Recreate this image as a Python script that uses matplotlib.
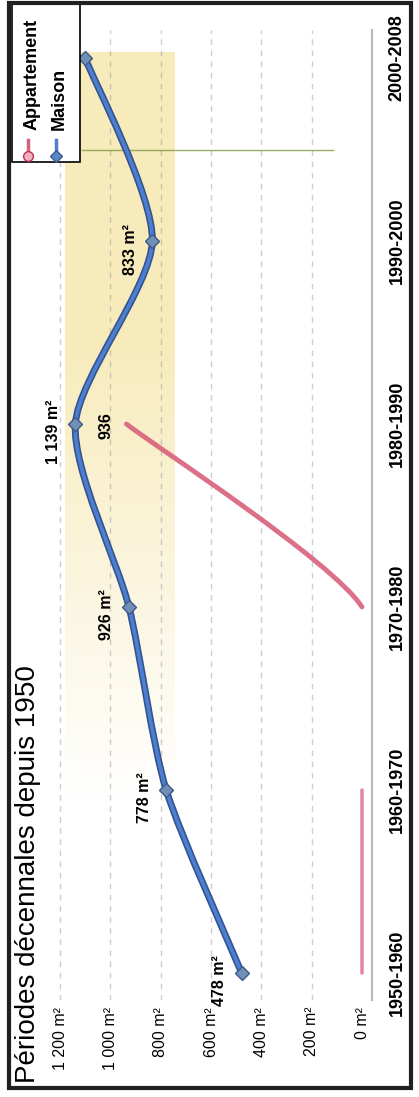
import numpy as np
import matplotlib
matplotlib.use("Agg")
import matplotlib.pyplot as plt
from matplotlib.path import Path
from matplotlib.patches import PathPatch, Rectangle
from matplotlib.lines import Line2D

plt.rcParams['font.family'] = ['Liberation Sans', 'DejaVu Sans']

# data
periods = ["1950-1960", "1960-1970", "1970-1980", "1980-1990", "1990-2000", "2000-2008"]
maison = [478, 778, 926, 1139, 833, 1100]
appartement = [0, 0, 0, 936, np.nan, np.nan]
appart_hidden_segments = [1]  # 1960-1970 -> 1970-1980 not visible in the original
maison_labels = ["478 m²", "778 m²", "926 m²", "1 139 m²", "833 m²", None]
value_ticks = [0, 200, 400, 600, 800, 1000, 1200]
value_tick_labels = ["0 m²", "200 m²", "400 m²", "600 m²", "800 m²", "1 000 m²", "1 200 m²"]

W, H = 419, 1097


def fx(px):
    return px / W


def fy(py):
    return 1 - py / H


def smooth_path(vals, skip=(), only=None, k=8):
    # Catmull-Rom style bezier through the points (value, index)
    pts = [(v, i) for i, v in enumerate(vals)]
    verts, codes = [], []
    n = len(pts)
    for i in range(n - 1):
        if i in skip or np.isnan(pts[i][0]) or np.isnan(pts[i + 1][0]):
            continue
        if only is not None and i not in only:
            continue
        p0 = pts[i - 1] if i > 0 and not np.isnan(pts[i - 1][0]) else pts[i]
        p1, p2 = pts[i], pts[i + 1]
        p3 = pts[i + 2] if i + 2 < n and not np.isnan(pts[i + 2][0]) else pts[i + 1]
        c1 = (p1[0] + (p2[0] - p0[0]) / k, p1[1] + (p2[1] - p0[1]) / k)
        c2 = (p2[0] - (p3[0] - p1[0]) / k, p2[1] - (p3[1] - p1[1]) / k)
        verts += [p1, c1, c2, p2]
        codes += [Path.MOVETO, Path.CURVE4, Path.CURVE4, Path.CURVE4]
    return Path(verts, codes)


fig = plt.figure(figsize=(W / 100, H / 100), dpi=100)
ax = fig.add_axes([fx(40), fy(1000), fx(372) - fx(40), fy(30) - fy(1000)])
ax.set_xlim(1279.5, -39.7)
ax.set_ylim(-0.1475, 5.153)

for s in ["top", "left", "bottom"]:
    ax.spines[s].set_visible(False)
ax.spines["right"].set_color("#b8b8b8")
ax.spines["right"].set_linewidth(1.5)

# yellow highlight band, fading towards the bottom
grad = np.ones((100, 1, 4))
grad[..., 0], grad[..., 1], grad[..., 2] = 0.96, 0.89, 0.62
grad[:, 0, 3] = np.clip(np.linspace(0.0, 1.6, 100), 0, 1) * 0.7
ax.imshow(grad, extent=(1180, 743, 0.9, 5.03), origin="lower", aspect="auto",
          interpolation="bilinear", zorder=0)

# dashed grid
for v in value_ticks[1:]:
    ax.axvline(v, color="#9c9c9c", lw=1, ls=(0, (4, 4)), alpha=0.5, zorder=1)

# green guide line
ax.plot([1112, 115], [4.5, 4.5], color="#7d9a3c", lw=1, alpha=0.8, zorder=1)

# appartement
ax.add_patch(PathPatch(smooth_path(appartement, appart_hidden_segments, only=[0]),
                       fill=False, ec="#e0708e", lw=2.5, capstyle="round", zorder=3,
                       alpha=0.85))
ax.add_patch(PathPatch(smooth_path(appartement, appart_hidden_segments, only=[2]),
                       fill=False, ec="#d9607c", lw=3.5, capstyle="round", zorder=3,
                       alpha=0.9))
ax.annotate("936", (appartement[3], 3), xytext=(-20, -2), textcoords="offset pixels",
            rotation=90, ha="center", va="center", fontsize=11.5, fontweight="bold")

# maison
mpath = smooth_path(maison)
ax.add_patch(PathPatch(mpath, fill=False, ec="#35548f", lw=5, capstyle="round", zorder=4))
ax.add_patch(PathPatch(mpath, fill=False, ec="#4d7fd0", lw=2.6, capstyle="round", zorder=5))
ax.plot(maison, range(len(maison)), ls="none", marker="D", ms=7, mfc="#6f8fb4",
        mec="#3d5a8a", mew=1, zorder=6)
for i, (v, lab) in enumerate(zip(maison, maison_labels)):
    if lab:
        ax.annotate(lab, (v, i), xytext=(-22, -8), textcoords="offset pixels",
                    rotation=90, ha="center", va="center", fontsize=11.5,
                    fontweight="bold")

# axes ticks
ax.set_xticks(value_ticks)
ax.set_xticklabels(value_tick_labels, rotation=90, fontsize=11.5)
ax.set_yticks(range(len(periods)))
ax.set_yticklabels(periods, rotation=90, fontsize=13, fontweight="bold", va="center")
ax.tick_params(axis="x", length=0, pad=5)
ax.tick_params(axis="y", length=0, pad=12, left=False, labelleft=False, labelright=True)

# title
fig.text(fx(28), fy(1083), "Périodes décennales depuis 1950", rotation=90,
         ha="center", va="bottom", fontsize=20)

# legend
fig.patches.append(Rectangle((fx(12), fy(162)), fx(80) - fx(12), fy(3) - fy(162),
                             transform=fig.transFigure, fc="white", ec="black", lw=1.2,
                             zorder=10))
fig.lines.append(Line2D([fx(28), fx(28)], [fy(156), fy(140)], transform=fig.transFigure,
                        color="#d9607c", lw=2.5, marker="o", ms=7, mfc="#f0b0c0",
                        mec="#c03050", markevery=[0], zorder=11))
fig.lines.append(Line2D([fx(56), fx(56)], [fy(156), fy(140)], transform=fig.transFigure,
                        color="#4d7fd0", lw=2.5, marker="D", ms=6, mfc="#5a86c8",
                        mec="#3d5a8a", markevery=[0], zorder=11))
fig.text(fx(32), fy(130), "Appartement", rotation=90, ha="center", va="bottom",
         fontsize=13, fontweight="bold", zorder=12)
fig.text(fx(59), fy(130), "Maison", rotation=90, ha="center", va="bottom",
         fontsize=13, fontweight="bold", zorder=12)

# outer frame
fig.patches.append(Rectangle((fx(9), fy(1088)), fx(411) - fx(9), fy(3) - fy(1088),
                             transform=fig.transFigure, fill=False, ec="#202020", lw=3,
                             zorder=20))

fig.savefig("out.png", dpi=100)
